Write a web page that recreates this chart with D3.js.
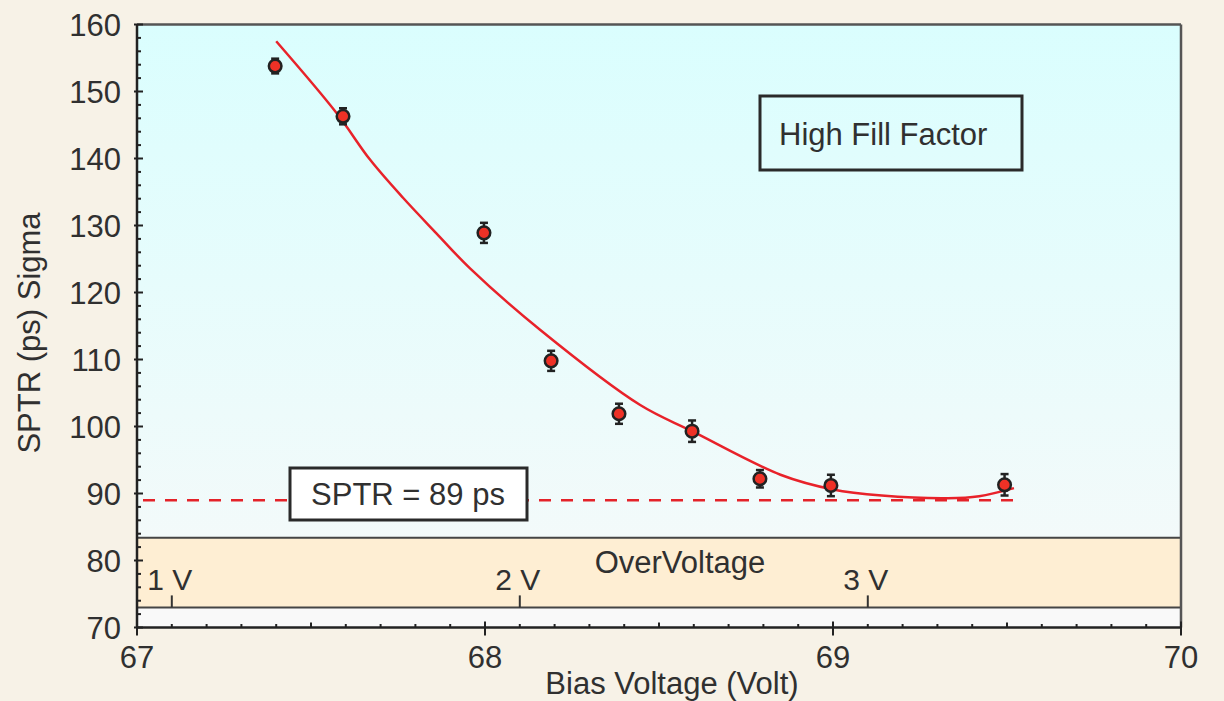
<!DOCTYPE html>
<html>
<head>
<meta charset="utf-8">
<script src="https://cdn.jsdelivr.net/npm/d3@7"></script>
<style>
  html, body { margin: 0; padding: 0; background: #f7f2e7; }
  svg { display: block; }
  text { font-family: "Liberation Sans", Arial, sans-serif; fill: #303030; }
</style>
</head>
<body>
<svg id="chart" width="1224" height="701"></svg>
<script>
// Measured SPTR sigma vs. bias voltage
const biasVoltage = [67.397, 67.592, 67.997, 68.19, 68.385, 68.595, 68.79, 68.994, 69.493];
const sptrSigma   = [153.8, 146.3, 128.9, 109.8, 101.9, 99.3, 92.2, 91.2, 91.3];
const sigmaError  = [1.1, 1.2, 1.5, 1.5, 1.5, 1.6, 1.3, 1.6, 1.6];

// Fitted trend through the measurements
const fitVoltage = [67.40, 67.574, 67.670, 67.765, 67.861, 67.957, 68.159, 68.446, 68.595, 68.849, 69.00, 69.14, 69.33, 69.42, 69.52];
const fitSigma   = [157.5, 146.75, 139.8, 134.1, 128.8, 123.6, 114.4, 103.2, 99.3, 92.8, 90.6, 89.7, 89.3, 89.6, 90.8];

// Axis ticks
const xTicks = [67, 68, 69, 70];
const yTicks = [70, 80, 90, 100, 110, 120, 130, 140, 150, 160];
const overVoltTicks = [1, 2, 3];
const breakdownVoltage = 66.1;

// Reference level
const sptrLevel = 89;
const sptrLevelEnd = 69.54;
const bandRange = [73, 83.4];

const svg = d3.select("#chart");
const L = 137, R = 1181, T = 24.5, B = 627.5;
const FS = 31;

const x = d3.scaleLinear().domain([67, 70]).range([L, R]);
const y = d3.scaleLinear().domain([70, 160]).range([B, T]);

// Background gradient for the plot area
const defs = svg.append("defs");
const grad = defs.append("linearGradient").attr("id", "plotBg")
  .attr("x1", 0).attr("y1", 0).attr("x2", 0).attr("y2", 1);
grad.append("stop").attr("offset", "0%").attr("stop-color", "#dafefe");
grad.append("stop").attr("offset", "100%").attr("stop-color", "#f3fafa");

svg.append("rect").attr("x", L).attr("y", T)
  .attr("width", R - L).attr("height", y(bandRange[1]) - T)
  .attr("fill", "url(#plotBg)");
svg.append("rect").attr("x", L).attr("y", y(bandRange[0]))
  .attr("width", R - L).attr("height", B - y(bandRange[0]))
  .attr("fill", "#f9f9f9");

// Over-voltage band
svg.append("rect").attr("x", L).attr("y", y(bandRange[1]))
  .attr("width", R - L).attr("height", y(bandRange[0]) - y(bandRange[1]))
  .attr("fill", "#feeed3");
[bandRange[0], bandRange[1]].forEach(v => {
  svg.append("line").attr("x1", L).attr("x2", R)
    .attr("y1", y(v)).attr("y2", y(v))
    .attr("stroke", "#454545").attr("stroke-width", 2);
});
svg.append("text").attr("x", 680).attr("y", 573)
  .attr("text-anchor", "middle").attr("font-size", FS).text("OverVoltage");

const ovg = svg.append("g");
overVoltTicks.forEach(v => {
  const px = x(breakdownVoltage + v);
  ovg.append("line").attr("x1", px).attr("x2", px)
    .attr("y1", y(bandRange[0]) - 12).attr("y2", y(bandRange[0]))
    .attr("stroke", "#333").attr("stroke-width", 2);
  ovg.append("text").attr("x", px - 2).attr("y", 590)
    .attr("text-anchor", "middle").attr("font-size", 30).text(v + " V");
});

// Plot frame (top and right)
svg.append("line").attr("x1", L).attr("x2", R).attr("y1", T).attr("y2", T)
  .attr("stroke", "#555").attr("stroke-width", 2.5);
svg.append("line").attr("x1", R).attr("x2", R).attr("y1", T).attr("y2", B)
  .attr("stroke", "#555").attr("stroke-width", 2.5);

// X axis
const xMinor = d3.range(67, 70.001, 0.1).map(v => +v.toFixed(1));
const xg = svg.append("g");
xMinor.forEach(v => {
  const isMajor = Math.abs(v - Math.round(v)) < 1e-6;
  const isHalf = Math.abs(v * 2 - Math.round(v * 2)) < 1e-6 && !isMajor;
  const up = isMajor ? 6 : (isHalf ? 5 : 3.5);
  const down = isMajor ? 8 : 0;
  xg.append("line").attr("x1", x(v)).attr("x2", x(v))
    .attr("y1", B - up).attr("y2", B + down)
    .attr("stroke", "#222").attr("stroke-width", 2);
});
xg.append("line").attr("x1", L).attr("x2", R).attr("y1", B).attr("y2", B)
  .attr("stroke", "#222").attr("stroke-width", 2.5);
xTicks.forEach(v => {
  xg.append("text").attr("x", x(v)).attr("y", 668)
    .attr("text-anchor", "middle").attr("font-size", FS).text(v);
});
svg.append("text").attr("x", 672).attr("y", 694)
  .attr("text-anchor", "middle").attr("font-size", FS).text("Bias Voltage (Volt)");

// Y axis
const yMinor = d3.range(70, 160.001, 2);
const yg = svg.append("g");
yMinor.forEach(v => {
  const isMajor = v % 10 === 0;
  yg.append("line").attr("x1", L - (isMajor ? 3 : 0)).attr("x2", L + (isMajor ? 6 : 4))
    .attr("y1", y(v)).attr("y2", y(v))
    .attr("stroke", "#222").attr("stroke-width", 2);
});
yg.append("line").attr("x1", L).attr("x2", L).attr("y1", T).attr("y2", B)
  .attr("stroke", "#222").attr("stroke-width", 2.5);
yTicks.forEach(v => {
  yg.append("text").attr("x", 121).attr("y", y(v)).attr("dy", "0.36em")
    .attr("text-anchor", "end").attr("font-size", FS).text(v);
});
svg.append("text")
  .attr("transform", "translate(40,333) rotate(-90)")
  .attr("text-anchor", "middle").attr("font-size", FS).text("SPTR (ps) Sigma");

// SPTR reference level
svg.append("line")
  .attr("x1", x(67)).attr("x2", x(sptrLevelEnd))
  .attr("y1", y(sptrLevel)).attr("y2", y(sptrLevel))
  .attr("stroke", "#e42229").attr("stroke-width", 2.5)
  .attr("stroke-dasharray", "12,10").attr("stroke-dashoffset", -6);

// Fit curve
const fitData = fitVoltage.map((v, i) => [v, fitSigma[i]]);
svg.append("path").datum(fitData)
  .attr("d", d3.line().x(d => x(d[0])).y(d => y(d[1])).curve(d3.curveCatmullRom.alpha(0.5)))
  .attr("fill", "none").attr("stroke", "#e8222a").attr("stroke-width", 2.5);

// Data points with error bars
const pts = biasVoltage.map((v, i) => ({ v, s: sptrSigma[i], e: sigmaError[i] }));
const pg = svg.append("g");
pts.forEach(d => {
  const cx = x(d.v);
  pg.append("line").attr("x1", cx).attr("x2", cx)
    .attr("y1", y(d.s + d.e)).attr("y2", y(d.s - d.e))
    .attr("stroke", "#222").attr("stroke-width", 2.5);
  [d.s + d.e, d.s - d.e].forEach(c => {
    pg.append("line").attr("x1", cx - 4).attr("x2", cx + 4)
      .attr("y1", y(c)).attr("y2", y(c))
      .attr("stroke", "#222").attr("stroke-width", 2.5);
  });
  pg.append("circle").attr("cx", cx).attr("cy", y(d.s)).attr("r", 6.3)
    .attr("fill", "#ee3126").attr("stroke", "#222").attr("stroke-width", 2.5);
});

// Annotation boxes
svg.append("rect").attr("x", 290).attr("y", 468).attr("width", 237).attr("height", 52)
  .attr("fill", "#ffffff").attr("stroke", "#2a2a2a").attr("stroke-width", 3);
svg.append("text").attr("x", 408).attr("y", 505)
  .attr("text-anchor", "middle").attr("font-size", FS).text("SPTR = " + sptrLevel + " ps");

svg.append("rect").attr("x", 760).attr("y", 96).attr("width", 262).attr("height", 74)
  .attr("fill", "none").attr("stroke", "#2a2a2a").attr("stroke-width", 3);
svg.append("text").attr("x", 779).attr("y", 145)
  .attr("font-size", FS).text("High Fill Factor");
</script>
</body>
</html>
